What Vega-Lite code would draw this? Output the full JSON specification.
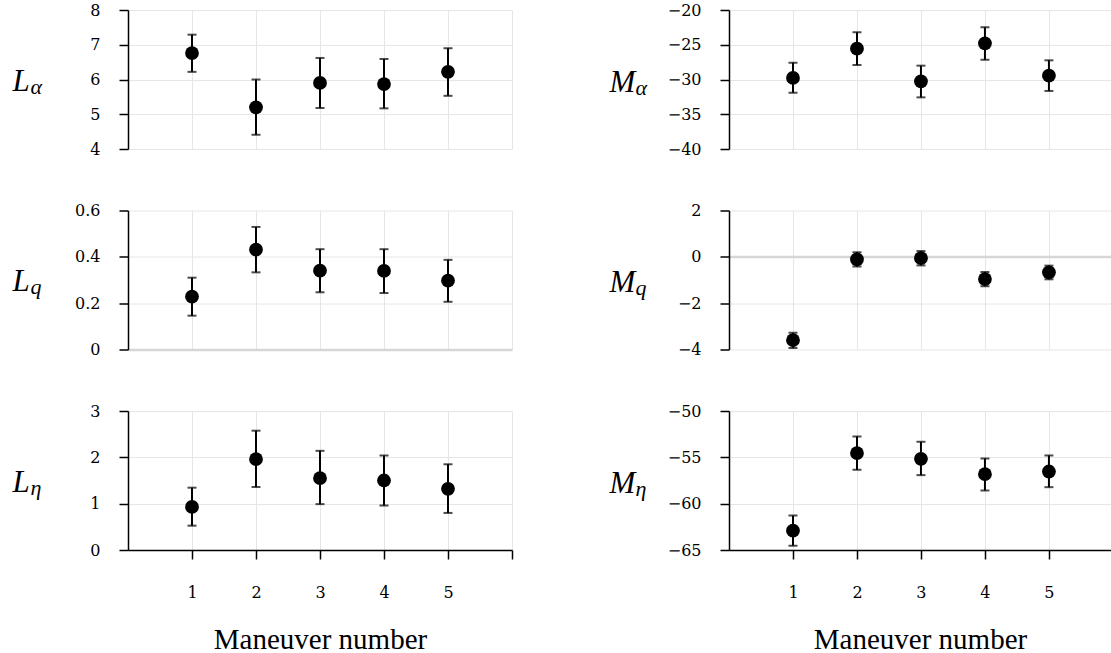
{
  "$schema": "https://vega.github.io/schema/vega-lite/v6.json",
  "padding": {"left": 12, "top": 2, "right": 0, "bottom": 0},
  "background": "white",
  "datasets": {
    "coef": [
      {"p": "La", "m": 1, "v": 6.76, "lo": 6.22, "hi": 7.29},
      {"p": "La", "m": 2, "v": 5.20, "lo": 4.41, "hi": 6.00},
      {"p": "La", "m": 3, "v": 5.90, "lo": 5.18, "hi": 6.62},
      {"p": "La", "m": 4, "v": 5.87, "lo": 5.17, "hi": 6.59},
      {"p": "La", "m": 5, "v": 6.22, "lo": 5.53, "hi": 6.90},
      {"p": "Ma", "m": 1, "v": -29.78, "lo": -31.89, "hi": -27.58},
      {"p": "Ma", "m": 2, "v": -25.56, "lo": -27.91, "hi": -23.21},
      {"p": "Ma", "m": 3, "v": -30.26, "lo": -32.57, "hi": -28.01},
      {"p": "Ma", "m": 4, "v": -24.80, "lo": -27.15, "hi": -22.49},
      {"p": "Ma", "m": 5, "v": -29.45, "lo": -31.65, "hi": -27.24},
      {"p": "Lq", "m": 1, "v": 0.228, "lo": 0.146, "hi": 0.310},
      {"p": "Lq", "m": 2, "v": 0.431, "lo": 0.333, "hi": 0.529},
      {"p": "Lq", "m": 3, "v": 0.340, "lo": 0.247, "hi": 0.433},
      {"p": "Lq", "m": 4, "v": 0.339, "lo": 0.244, "hi": 0.433},
      {"p": "Lq", "m": 5, "v": 0.297, "lo": 0.206, "hi": 0.387},
      {"p": "Mq", "m": 1, "v": -3.60, "lo": -3.93, "hi": -3.28},
      {"p": "Mq", "m": 2, "v": -0.11, "lo": -0.42, "hi": 0.20},
      {"p": "Mq", "m": 3, "v": -0.06, "lo": -0.37, "hi": 0.25},
      {"p": "Mq", "m": 4, "v": -0.96, "lo": -1.27, "hi": -0.65},
      {"p": "Mq", "m": 5, "v": -0.67, "lo": -0.97, "hi": -0.38},
      {"p": "Le", "m": 1, "v": 0.93, "lo": 0.525, "hi": 1.345},
      {"p": "Le", "m": 2, "v": 1.96, "lo": 1.36, "hi": 2.575},
      {"p": "Le", "m": 3, "v": 1.55, "lo": 0.99, "hi": 2.14},
      {"p": "Le", "m": 4, "v": 1.50, "lo": 0.96, "hi": 2.04},
      {"p": "Le", "m": 5, "v": 1.32, "lo": 0.80, "hi": 1.85},
      {"p": "Me", "m": 1, "v": -62.91, "lo": -64.53, "hi": -61.29},
      {"p": "Me", "m": 2, "v": -54.54, "lo": -56.35, "hi": -52.74},
      {"p": "Me", "m": 3, "v": -55.16, "lo": -56.92, "hi": -53.32},
      {"p": "Me", "m": 4, "v": -56.82, "lo": -58.58, "hi": -55.12},
      {"p": "Me", "m": 5, "v": -56.53, "lo": -58.22, "hi": -54.80}
    ]
  },
  "data": {"name": "coef"},
  "columns": 2,
  "align": "all",
  "bounds": "flush",
  "spacing": {"row": 61.5, "column": 217},
  "config": {
    "view": {"stroke": null},
    "axis": {
      "labelFont": "DejaVu Serif",
      "labelFontSize": 16,
      "labelColor": "black",
      "titleFont": "Liberation Serif",
      "titleColor": "black",
      "titleFontWeight": "normal",
      "domainColor": "black",
      "domainWidth": 1.5,
      "tickColor": "black",
      "tickWidth": 1.5,
      "tickSize": 9,
      "gridColor": "#e6e6e6",
      "gridWidth": 1
    }
  },
  "concat": [
    {
      "width": 384, "height": 139,
      "transform": [{"filter": "datum.p === 'La'"}],
      "encoding": {"x": {"field": "m", "type": "quantitative", "scale": {"domain": [0, 6]}, "axis": {"values": [1, 2, 3, 4, 5, 6], "domain": false, "ticks": false, "labels": false, "grid": true, "title": null}}},
      "layer": [
        {"mark": {"type": "rule", "color": "black", "strokeWidth": 2},
         "encoding": {"y": {"field": "lo", "type": "quantitative", "scale": {"domain": [4, 8]}, "axis": {"orient": "right", "domain": false, "ticks": false, "labels": false, "grid": false, "title": "α", "titleFontStyle": "italic", "titleFontSize": 22, "titleAngle": 0, "titleAlign": "left", "titleBaseline": "alphabetic", "titleX": -482, "titleY": 83}}, "y2": {"field": "hi"}}},
        {"mark": {"type": "tick", "orient": "horizontal", "color": "black", "size": 9, "thickness": 2},
         "encoding": {"y": {"field": "lo", "type": "quantitative", "scale": {"domain": [4, 8]}, "axis": null}}},
        {"mark": {"type": "tick", "orient": "horizontal", "color": "black", "size": 9, "thickness": 2},
         "encoding": {"y": {"field": "hi", "type": "quantitative", "scale": {"domain": [4, 8]}, "axis": null}}},
        {"mark": {"type": "point", "filled": true, "color": "black", "opacity": 1, "size": 190},
         "encoding": {"y": {"field": "v", "type": "quantitative", "scale": {"domain": [4, 8]}, "axis": {"orient": "left", "values": [4, 5, 6, 7, 8], "format": "~g", "labelPadding": 19, "grid": true, "title": "L", "titleFontStyle": "italic", "titleFontSize": 31, "titleAngle": 0, "titleAlign": "left", "titleBaseline": "alphabetic", "titleX": -116, "titleY": 80}}}}
      ],
      "resolve": {"axis": {"y": "independent"}}
    },
    {
      "width": 382, "height": 139,
      "transform": [{"filter": "datum.p === 'Ma'"}],
      "encoding": {"x": {"field": "m", "type": "quantitative", "scale": {"domain": [0, 5.97]}, "axis": {"values": [1, 2, 3, 4, 5], "domain": false, "ticks": false, "labels": false, "grid": true, "title": null}}},
      "layer": [
        {"mark": {"type": "rule", "color": "black", "strokeWidth": 2},
         "encoding": {"y": {"field": "lo", "type": "quantitative", "scale": {"domain": [-40, -20]}, "axis": {"orient": "right", "domain": false, "ticks": false, "labels": false, "grid": false, "title": "α", "titleFontStyle": "italic", "titleFontSize": 22, "titleAngle": 0, "titleAlign": "left", "titleBaseline": "alphabetic", "titleX": -476, "titleY": 84}}, "y2": {"field": "hi"}}},
        {"mark": {"type": "tick", "orient": "horizontal", "color": "black", "size": 9, "thickness": 2},
         "encoding": {"y": {"field": "lo", "type": "quantitative", "scale": {"domain": [-40, -20]}, "axis": null}}},
        {"mark": {"type": "tick", "orient": "horizontal", "color": "black", "size": 9, "thickness": 2},
         "encoding": {"y": {"field": "hi", "type": "quantitative", "scale": {"domain": [-40, -20]}, "axis": null}}},
        {"mark": {"type": "point", "filled": true, "color": "black", "opacity": 1, "size": 190},
         "encoding": {"y": {"field": "v", "type": "quantitative", "scale": {"domain": [-40, -20]}, "axis": {"orient": "left", "values": [-40, -35, -30, -25, -20], "format": "~g", "labelPadding": 19, "grid": true, "title": "M", "titleFontStyle": "italic", "titleFontSize": 31, "titleAngle": 0, "titleAlign": "left", "titleBaseline": "alphabetic", "titleX": -120, "titleY": 81}}}}
      ],
      "resolve": {"axis": {"y": "independent"}}
    },
    {
      "width": 384, "height": 139,
      "transform": [{"filter": "datum.p === 'Lq'"}],
      "encoding": {"x": {"field": "m", "type": "quantitative", "scale": {"domain": [0, 6]}, "axis": {"values": [1, 2, 3, 4, 5, 6], "domain": false, "ticks": false, "labels": false, "grid": true, "title": null}}},
      "layer": [
        {"mark": {"type": "rule", "color": "black", "strokeWidth": 2},
         "encoding": {"y": {"field": "lo", "type": "quantitative", "scale": {"domain": [0, 0.6]}, "axis": {"orient": "right", "domain": false, "ticks": false, "labels": false, "grid": false, "title": "q", "titleFontStyle": "italic", "titleFontSize": 22, "titleAngle": 0, "titleAlign": "left", "titleBaseline": "alphabetic", "titleX": -482, "titleY": 83}}, "y2": {"field": "hi"}}},
        {"mark": {"type": "tick", "orient": "horizontal", "color": "black", "size": 9, "thickness": 2},
         "encoding": {"y": {"field": "lo", "type": "quantitative", "scale": {"domain": [0, 0.6]}, "axis": null}}},
        {"mark": {"type": "tick", "orient": "horizontal", "color": "black", "size": 9, "thickness": 2},
         "encoding": {"y": {"field": "hi", "type": "quantitative", "scale": {"domain": [0, 0.6]}, "axis": null}}},
        {"mark": {"type": "point", "filled": true, "color": "black", "opacity": 1, "size": 190},
         "encoding": {"y": {"field": "v", "type": "quantitative", "scale": {"domain": [0, 0.6]}, "axis": {"orient": "left", "values": [0, 0.2, 0.4, 0.6], "format": "~g", "labelPadding": 19, "grid": true, "gridWidth": {"condition": {"test": "datum.value === 0", "value": 2.5}, "value": 1}, "gridColor": {"condition": {"test": "datum.value === 0", "value": "#d6d6d6"}, "value": "#e6e6e6"}, "title": "L", "titleFontStyle": "italic", "titleFontSize": 31, "titleAngle": 0, "titleAlign": "left", "titleBaseline": "alphabetic", "titleX": -116, "titleY": 80}}}}
      ],
      "resolve": {"axis": {"y": "independent"}}
    },
    {
      "width": 382, "height": 139,
      "transform": [{"filter": "datum.p === 'Mq'"}],
      "encoding": {"x": {"field": "m", "type": "quantitative", "scale": {"domain": [0, 5.97]}, "axis": {"values": [1, 2, 3, 4, 5], "domain": false, "ticks": false, "labels": false, "grid": true, "title": null}}},
      "layer": [
        {"mark": {"type": "rule", "color": "black", "strokeWidth": 2},
         "encoding": {"y": {"field": "lo", "type": "quantitative", "scale": {"domain": [-4, 2]}, "axis": {"orient": "right", "domain": false, "ticks": false, "labels": false, "grid": false, "title": "q", "titleFontStyle": "italic", "titleFontSize": 22, "titleAngle": 0, "titleAlign": "left", "titleBaseline": "alphabetic", "titleX": -476, "titleY": 84}}, "y2": {"field": "hi"}}},
        {"mark": {"type": "tick", "orient": "horizontal", "color": "black", "size": 9, "thickness": 2},
         "encoding": {"y": {"field": "lo", "type": "quantitative", "scale": {"domain": [-4, 2]}, "axis": null}}},
        {"mark": {"type": "tick", "orient": "horizontal", "color": "black", "size": 9, "thickness": 2},
         "encoding": {"y": {"field": "hi", "type": "quantitative", "scale": {"domain": [-4, 2]}, "axis": null}}},
        {"mark": {"type": "point", "filled": true, "color": "black", "opacity": 1, "size": 190},
         "encoding": {"y": {"field": "v", "type": "quantitative", "scale": {"domain": [-4, 2]}, "axis": {"orient": "left", "values": [-4, -2, 0, 2], "format": "~g", "labelPadding": 19, "grid": true, "gridWidth": {"condition": {"test": "datum.value === 0", "value": 2.5}, "value": 1}, "gridColor": {"condition": {"test": "datum.value === 0", "value": "#d6d6d6"}, "value": "#e6e6e6"}, "title": "M", "titleFontStyle": "italic", "titleFontSize": 31, "titleAngle": 0, "titleAlign": "left", "titleBaseline": "alphabetic", "titleX": -120, "titleY": 81}}}}
      ],
      "resolve": {"axis": {"y": "independent"}}
    },
    {
      "width": 384, "height": 139,
      "transform": [{"filter": "datum.p === 'Le'"}],
      "encoding": {"x": {"field": "m", "type": "quantitative", "scale": {"domain": [0, 6]}, "axis": {"values": [1, 2, 3, 4, 5, 6], "labelExpr": "datum.value === 6 ? '' : datum.label", "domain": true, "ticks": true, "labels": true, "labelPadding": 25, "grid": true, "title": "Maneuver number", "titleFontSize": 29, "titleBaseline": "alphabetic", "titleY": 98}}},
      "layer": [
        {"mark": {"type": "rule", "color": "black", "strokeWidth": 2},
         "encoding": {"y": {"field": "lo", "type": "quantitative", "scale": {"domain": [0, 3]}, "axis": {"orient": "right", "domain": false, "ticks": false, "labels": false, "grid": false, "title": "η", "titleFontStyle": "italic", "titleFontSize": 22, "titleAngle": 0, "titleAlign": "left", "titleBaseline": "alphabetic", "titleX": -482, "titleY": 83}}, "y2": {"field": "hi"}}},
        {"mark": {"type": "tick", "orient": "horizontal", "color": "black", "size": 9, "thickness": 2},
         "encoding": {"y": {"field": "lo", "type": "quantitative", "scale": {"domain": [0, 3]}, "axis": null}}},
        {"mark": {"type": "tick", "orient": "horizontal", "color": "black", "size": 9, "thickness": 2},
         "encoding": {"y": {"field": "hi", "type": "quantitative", "scale": {"domain": [0, 3]}, "axis": null}}},
        {"mark": {"type": "point", "filled": true, "color": "black", "opacity": 1, "size": 190},
         "encoding": {"y": {"field": "v", "type": "quantitative", "scale": {"domain": [0, 3]}, "axis": {"orient": "left", "values": [0, 1, 2, 3], "format": "~g", "labelPadding": 19, "grid": true, "title": "L", "titleFontStyle": "italic", "titleFontSize": 31, "titleAngle": 0, "titleAlign": "left", "titleBaseline": "alphabetic", "titleX": -116, "titleY": 80}}}}
      ],
      "resolve": {"axis": {"y": "independent"}}
    },
    {
      "width": 382, "height": 139,
      "transform": [{"filter": "datum.p === 'Me'"}],
      "encoding": {"x": {"field": "m", "type": "quantitative", "scale": {"domain": [0, 5.97]}, "axis": {"values": [1, 2, 3, 4, 5], "domain": true, "ticks": true, "labels": true, "labelPadding": 25, "grid": true, "title": "Maneuver number", "titleFontSize": 29, "titleBaseline": "alphabetic", "titleY": 98}}},
      "layer": [
        {"mark": {"type": "rule", "color": "black", "strokeWidth": 2},
         "encoding": {"y": {"field": "lo", "type": "quantitative", "scale": {"domain": [-65, -50]}, "axis": {"orient": "right", "domain": false, "ticks": false, "labels": false, "grid": false, "title": "η", "titleFontStyle": "italic", "titleFontSize": 22, "titleAngle": 0, "titleAlign": "left", "titleBaseline": "alphabetic", "titleX": -476, "titleY": 84}}, "y2": {"field": "hi"}}},
        {"mark": {"type": "tick", "orient": "horizontal", "color": "black", "size": 9, "thickness": 2},
         "encoding": {"y": {"field": "lo", "type": "quantitative", "scale": {"domain": [-65, -50]}, "axis": null}}},
        {"mark": {"type": "tick", "orient": "horizontal", "color": "black", "size": 9, "thickness": 2},
         "encoding": {"y": {"field": "hi", "type": "quantitative", "scale": {"domain": [-65, -50]}, "axis": null}}},
        {"mark": {"type": "point", "filled": true, "color": "black", "opacity": 1, "size": 190},
         "encoding": {"y": {"field": "v", "type": "quantitative", "scale": {"domain": [-65, -50]}, "axis": {"orient": "left", "values": [-65, -60, -55, -50], "format": "~g", "labelPadding": 19, "grid": true, "title": "M", "titleFontStyle": "italic", "titleFontSize": 31, "titleAngle": 0, "titleAlign": "left", "titleBaseline": "alphabetic", "titleX": -120, "titleY": 81}}}}
      ],
      "resolve": {"axis": {"y": "independent"}}
    }
  ]
}
